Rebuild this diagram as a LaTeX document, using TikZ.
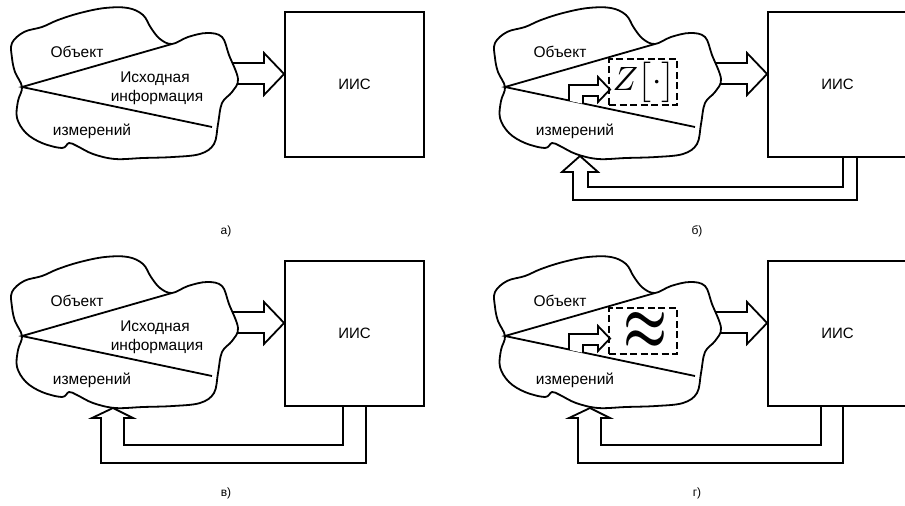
\documentclass[tikz,border=0pt]{standalone}
\usepackage{fontspec}
\setmainfont{Liberation Sans}
\usepackage{amsmath}
\usepackage{graphicx}
\tikzset{
  ln/.style={line width=1.8pt, line join=miter},
  iis/.style={draw, line width=1.8pt, minimum width=139pt, minimum height=145pt, inner sep=0pt, font=\fontsize{15}{18}\selectfont},
  lbl/.style={font=\fontsize{15.5}{18}\selectfont, inner sep=0pt},
  plbl/.style={font=\fontsize{12}{14}\selectfont, inner sep=0pt},
  dbox/.style={draw, dashed, dash pattern=on 7pt off 3.5pt, line width=1.6pt, minimum width=68pt, minimum height=46pt, inner sep=0pt},
}
\newcommand\PanelCore[1]{%
  \node[iis] (iis#1) at (354.5,84.5) {ИИС};
  \draw[ln, fill=white] (225,63) -- (264,63) -- (264,53) -- (iis#1.west |- 0,74) -- (264,95) -- (264,84) -- (225,84) -- cycle;
  \draw[ln, fill=white] plot[smooth cycle, tension=0.6] coordinates {
    (12,43) (24,32) (42,27) (58,20) (80,13) (105,8) (128,8) (143,15) (151,28) (160,39) (172,44)
    (188,37) (207,33) (222,37) (229,55) (238,79) (232,92) (222,103) (218,124) (214,144) (200,154)
    (173,157) (143,158) (115,159) (93,154) (77,146) (69,143) (62,148) (42,143) (26,133) (17,118)
    (18,101) (22,87) (15,72) (12,58)};
  \coordinate (v#1) at (22,87);
  \coordinate (u#1) at (172,44);
  \coordinate (w#1) at (212,127);
  \draw[ln] (u#1) -- (v#1) -- (w#1);
  \node[lbl] (obj#1) at (77,52) {Объект};
  \node[lbl] (izm#1) at (92,131) {измерений};
}
\newcommand\InnerArrow{%
  \draw[ln, fill=white] (86,100.8) -- (86,85) -- (115,85) -- (115,77) -- (127,89.5) -- (115,102) -- (115,96) -- (100,96) -- (100,103.8);
}
\begin{document}
\begin{tikzpicture}[x=1pt, y=-1pt]
\useasboundingbox (0,0) rectangle (905,506);
\fill[white] (0,0) rectangle (905,506);
% ---- panel a
\begin{scope}
  \PanelCore{A}
  \node[lbl] (ishA) at (155,79) {Исходная};
  \node[lbl] (infA) at (157,97) {информация};
  \node[plbl] (labA) at (226,231) {а)};
\end{scope}
% ---- panel b
\begin{scope}[shift={(483,0)}]
  \draw[ln, fill=white] (360,156) -- (360,187) -- (105,187) -- (105,172) -- (115,172) -- (97,156) -- (79,172) -- (90,172) -- (90,200) -- (374,200) -- (374,156);
  \PanelCore{B}
  \InnerArrow
  \node[dbox] (zB) at (160,82) {};
  \node[inner sep=0pt] (ztB) at (161,82) {\scalebox{3.37}{$Z\bigl[\cdot\bigr]$}};
  \node[plbl] (labB) at (214,231) {б)};
\end{scope}
% ---- panel c
\begin{scope}[shift={(0,249)}]
  \draw[ln, fill=white] (343,156) -- (343,196) -- (124,196) -- (124,169) -- (133,169) -- (113,159) -- (92,169) -- (101,169) -- (101,214) -- (366,214) -- (366,156);
  \PanelCore{C}
  \node[lbl] (ishC) at (155,79) {Исходная};
  \node[lbl] (infC) at (157,97) {информация};
  \node[plbl] (labC) at (226,244) {в)};
\end{scope}
% ---- panel d
\begin{scope}[shift={(483,249)}]
  \draw[ln, fill=white] (338,156) -- (338,196) -- (118,196) -- (118,169) -- (127,169) -- (107,159) -- (86,169) -- (95,169) -- (95,214) -- (360,214) -- (360,156);
  \PanelCore{D}
  \InnerArrow
  \node[dbox] (zD) at (160,82) {};
  \node[inner sep=0pt] (apD) at (162,82) {\resizebox{44pt}{36pt}{$\boldsymbol{\approx}$}};
  \node[plbl] (labD) at (214,244) {г)};
\end{scope}
\end{tikzpicture}
\end{document}
